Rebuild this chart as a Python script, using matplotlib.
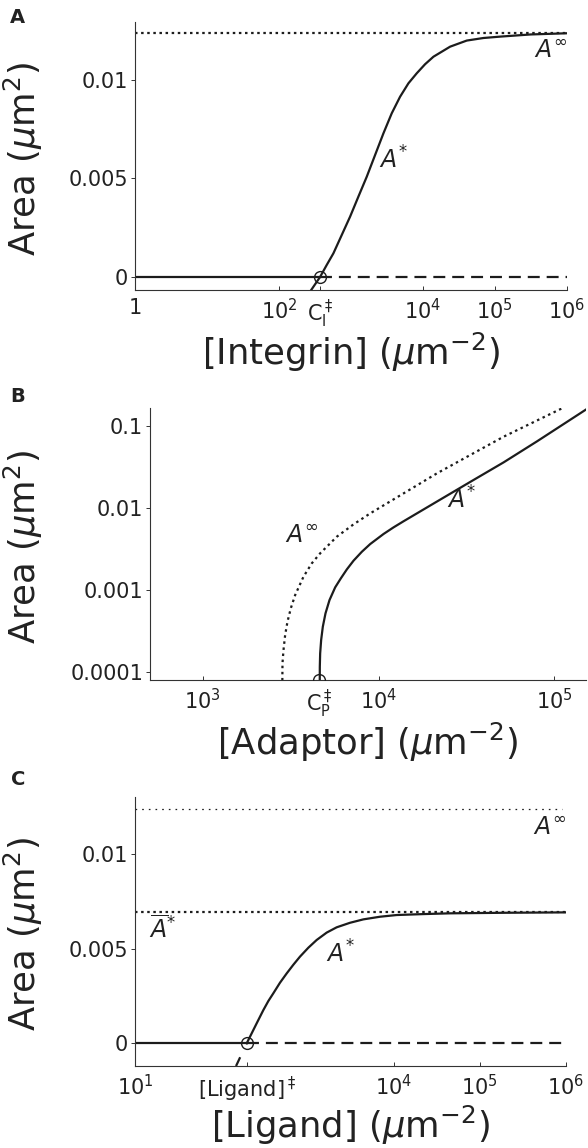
import matplotlib.pyplot as plt

plt.rcParams['font.family'] = ['DejaVu Sans']
plt.rcParams['mathtext.fontset'] = 'dejavusans'
plt.rcParams['lines.scale_dashes'] = False

INK = '#1c1c1c'
TXT = '#222222'

# --- panel A : integrin ---
int_thresh = 373.3
int_ainf = 0.01237
int_star_x = [271, 373.3, 461.9, 571.9, 746.9, 975.2, 1273, 1663, 2171, 2835, 3701, 4833,
              6310, 8240, 10760, 14050, 23950, 40830, 69620, 118700, 316200, 1e6]
int_star_y = [-0.000745, 0, 0.00061, 0.00120, 0.00213, 0.00306, 0.00408, 0.00509, 0.00619,
              0.00729, 0.00831, 0.00915, 0.00983, 0.01034, 0.01080, 0.01118, 0.01169,
              0.01200, 0.01213, 0.01220, 0.01231, 0.01237]
int_ticks = [1, 1e2, int_thresh, 1e4, 1e5, 1e6]
int_ticklabels = ['1', r'$10^2$', r'$\mathrm{C}_\mathrm{I}^\ddagger$', r'$10^4$', r'$10^5$', r'$10^6$']

# --- panel B : adaptor (log-log) ---
ad_thresh = 4613.0
ad_star_x = [4613, 4633, 4654, 4715, 4819, 4991, 5260, 5666, 6103, 6601, 7204, 8035, 8965,
             10680, 12160, 13880, 21480, 33250, 51460, 79660, 152100]
ad_star_y = [1e-5, 1.151e-4, 1.675e-4, 2.438e-4, 3.540e-4, 5.152e-4, 7.482e-4, 1.069e-3,
             1.377e-3, 1.770e-3, 2.259e-3, 2.904e-3, 3.606e-3, 4.786e-3, 5.754e-3, 6.839e-3,
             1.189e-2, 2.065e-2, 3.573e-2, 6.442e-2, 0.1585]
ad_inf_x = [2816, 2841, 2879, 2942, 3033, 3168, 3354, 3741, 4172, 4654, 5790, 7204, 8965,
            13880, 21480, 33250, 51460, 110600]
ad_inf_y = [1e-5, 1.265e-4, 1.841e-4, 2.805e-4, 4.074e-4, 5.929e-4, 8.610e-4, 1.442e-3,
            2.099e-3, 2.780e-3, 4.436e-3, 6.266e-3, 8.531e-3, 1.496e-2, 2.624e-2, 4.395e-2,
            7.345e-2, 0.1629]
ad_ticks = [1e3, ad_thresh, 1e4, 1e5]
ad_ticklabels = [r'$10^3$', r'$\mathrm{C}_\mathrm{P}^\ddagger$', r'$10^4$', r'$10^5$']
ad_yticks = [1e-4, 1e-3, 1e-2, 1e-1]
ad_yticklabels = ['0.0001', '0.001', '0.01', '0.1']

# --- panel C : ligand ---
lig_thresh = 197.5
lig_ainf = 0.0124
lig_abar = 0.00693
lig_star_x = [197.5, 225.7, 257.9, 308.2, 352.3, 402.6, 481.0, 574.8, 686.9, 820.8, 1025,
              1281, 1673, 2185, 3121, 4456, 6954, 10850, 22130, 45110, 199500, 1e6]
lig_star_y = [0, 0.00053, 0.00106, 0.00176, 0.00224, 0.00265, 0.00321, 0.00370, 0.00416,
              0.00459, 0.00506, 0.00547, 0.00586, 0.00614, 0.00638, 0.00656, 0.00670,
              0.00679, 0.00684, 0.00688, 0.00691, 0.00693]
lig_neg_x = [148.6, 197.5]
lig_neg_y = [-0.0012, 0]
lig_ticks = [1e1, lig_thresh, 1e4, 1e5, 1e6]
lig_ticklabels = [r'$10^1$', r'[Ligand]$^\ddagger$', r'$10^4$', r'$10^5$', r'$10^6$']

lin_yticks = [0, 0.005, 0.01]
lin_yticklabels = ['0', '0.005', '0.01']

DASH = (0, (8.6, 5.0))
DOT = (0, (1.8, 2.6))

fig = plt.figure(figsize=(5.88, 11.48), dpi=100)
axA = fig.add_axes([0.2296, 0.7474, 0.7342, 0.2334])
axB = fig.add_axes([0.2551, 0.4077, 0.7415, 0.2372])
axC = fig.add_axes([0.2296, 0.0714, 0.7330, 0.2341])


def style(ax):
    for s in ['top', 'right']:
        ax.spines[s].set_visible(False)
    for s in ['left', 'bottom']:
        ax.spines[s].set_linewidth(0.8)
        ax.spines[s].set_color('#333333')
    ax.tick_params(axis='x', which='major', direction='in', length=3, width=0.7,
                   labelsize=15, pad=6, colors='#333333', labelcolor=TXT)
    ax.tick_params(axis='y', which='major', direction='out', length=3, width=0.7,
                   labelsize=15, pad=2, colors='#333333', labelcolor=TXT)
    ax.tick_params(which='minor', length=0)


def circle(ax, x, y):
    ax.plot([x], [y], 'o', ms=8.5, mfc='none', mec=INK, mew=1.0, zorder=5)


# ---------- A ----------
ax = axA
ax.set_xscale('log')
ax.axhline(int_ainf, color=INK, lw=1.6, ls=DOT)
ax.plot([1, int_thresh], [0, 0], color=INK, lw=1.6)
ax.plot([int_thresh, 1e6], [0, 0], color=INK, lw=1.6, ls=DASH)
ax.plot(int_star_x, int_star_y, color=INK, lw=1.6)
circle(ax, int_thresh, 0)
ax.text(1e6, 0.01147, r'$A^{\infty}$', fontsize=17, ha='right', va='center', color=TXT)
ax.text(3864, 0.00594, r'$A^{*}$', fontsize=17, ha='center', va='center', color=TXT)
ax.set_xlim(1, 1e6)
ax.set_ylim(-0.00066, 0.01294)
ax.set_xticks(int_ticks)
ax.set_xticklabels(int_ticklabels)
ax.set_yticks(lin_yticks)
ax.set_yticklabels(lin_yticklabels)
style(ax)
ax.set_xlabel(r'[Integrin] ($\mu$m$^{-2}$)', fontsize=25.5, color=TXT, labelpad=0.5)
ax.set_ylabel(r'Area ($\mu$m$^2$)', fontsize=25.5, color=TXT)
ax.yaxis.set_label_coords(-0.208, 0.49)

# ---------- B ----------
ax = axB
ax.set_xscale('log')
ax.set_yscale('log')
ax.plot(ad_inf_x, ad_inf_y, color=INK, lw=1.6, ls=DOT)
ax.plot(ad_star_x, ad_star_y, color=INK, lw=1.6)
ax.set_xlim(501, 151400)
ax.set_ylim(7.94e-5, 0.166)
circle(ax, ad_thresh, 7.94e-5)
ax.text(3631, 4.52e-3, r'$A^{\infty}$', fontsize=17, ha='center', va='center', color=TXT)
ax.text(29510, 0.0124, r'$A^{*}$', fontsize=17, ha='center', va='center', color=TXT)
ax.set_xticks(ad_ticks)
ax.set_xticklabels(ad_ticklabels)
ax.set_yticks(ad_yticks)
ax.set_yticklabels(ad_yticklabels)
style(ax)
ax.set_xlabel(r'[Adaptor] ($\mu$m$^{-2}$)', fontsize=25.5, color=TXT, labelpad=0.5)
ax.set_ylabel(r'Area ($\mu$m$^2$)', fontsize=25.5, color=TXT)
ax.yaxis.set_label_coords(-0.241, 0.49)

# ---------- C ----------
ax = axC
ax.set_xscale('log')
ax.axhline(lig_ainf, xmax=0.99, color=INK, lw=0.9, ls=(0, (1.2, 3.6)))
ax.axhline(lig_abar, color=INK, lw=1.6, ls=DOT)
ax.plot([10, lig_thresh], [0, 0], color=INK, lw=1.6)
ax.plot([lig_thresh, 1e6], [0, 0], color=INK, lw=1.6, ls=DASH)
ax.plot(lig_neg_x, lig_neg_y, color=INK, lw=1.6, ls=(0, (7.0, 14.0)))
ax.plot(lig_star_x, lig_star_y, color=INK, lw=1.6)
circle(ax, lig_thresh, 0)
ax.text(1e6, 0.01137, r'$A^{\infty}$', fontsize=17, ha='right', va='center', color=TXT)
ax.text(2421, 0.00472, r'$A^{*}$', fontsize=17, ha='center', va='center', color=TXT)
ax.text(21.1, 0.0060, r'$\overline{A}^{*}$', fontsize=17, ha='center', va='center', color=TXT)
ax.set_xlim(10, 1e6)
ax.set_ylim(-0.0012, 0.01302)
ax.set_xticks(lig_ticks)
ax.set_xticklabels(lig_ticklabels)
ax.set_yticks(lin_yticks)
ax.set_yticklabels(lin_yticklabels)
style(ax)
ax.set_xlabel(r'[Ligand] ($\mu$m$^{-2}$)', fontsize=25.5, color=TXT, labelpad=0.5)
ax.set_ylabel(r'Area ($\mu$m$^2$)', fontsize=25.5, color=TXT)
ax.yaxis.set_label_coords(-0.208, 0.49)

# panel letters
fig.text(10 / 588, 1 - 8 / 1148, 'A', fontsize=14, fontweight='bold', va='top', color=TXT)
fig.text(10 / 588, 1 - 387 / 1148, 'B', fontsize=14, fontweight='bold', va='top', color=TXT)
fig.text(11 / 588, 1 - 770 / 1148, 'C', fontsize=14, fontweight='bold', va='top', color=TXT)

fig.savefig('out.png', dpi=100)
